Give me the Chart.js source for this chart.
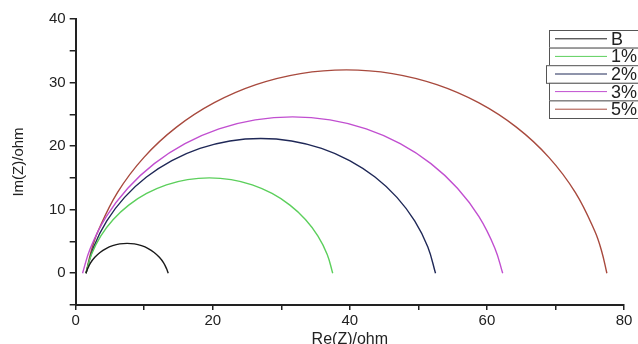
<!DOCTYPE html>
<html>
<head>
<meta charset="utf-8">
<script src="https://cdn.jsdelivr.net/npm/chart.js@4.4.0/dist/chart.umd.min.js"></script>
<style>
  html, body { margin: 0; padding: 0; background: #fff; }
  #wrap { width: 638px; height: 344px; }
</style>
</head>
<body>
<div id="wrap"><canvas id="nyquist"></canvas></div>
<script>
// series labels and colours
var labels = ["B", "1%", "2%", "3%", "5%"];
var colors = ["#1a1a1a", "#5ccf5c", "#1f2857", "#c14fd0", "#a84a3e"];

// Re(Z) / Im(Z) points
var bRe = [1.5, 1.72, 2.17, 2.79, 3.55, 4.43, 5.40, 6.43, 7.5, 8.57, 9.60, 10.58, 11.45, 12.21, 12.83, 13.28, 13.5];
var bIm = [0, 0.65, 1.63, 2.50, 3.26, 3.88, 4.33, 4.61, 4.70, 4.61, 4.33, 3.88, 3.26, 2.50, 1.63, 0.65, 0];

var p1Re = [1.5, 2.30, 3.65, 5.48, 7.74, 10.35, 13.24, 16.32, 19.5, 22.68, 25.76, 28.65, 31.26, 33.52, 35.35, 36.70, 37.5];
var p1Im = [0, 2.96, 5.85, 8.46, 10.72, 12.55, 13.90, 14.72, 15.0, 14.72, 13.90, 12.55, 10.72, 8.46, 5.85, 2.96, 0];

var p2Re = [1.5, 2.62, 4.54, 7.13, 10.33, 14.03, 18.13, 22.50, 27.0, 31.50, 35.87, 39.97, 43.67, 46.87, 49.46, 51.38, 52.5];
var p2Im = [0, 4.13, 8.23, 11.93, 15.13, 17.72, 19.64, 20.81, 21.2, 20.81, 19.64, 17.72, 15.13, 11.93, 8.23, 4.13, 0];

var p3Re = [1.0, 2.14, 4.46, 7.60, 11.47, 15.95, 20.91, 26.20, 31.65, 37.10, 42.39, 47.35, 51.83, 55.70, 58.84, 61.16, 62.3];
var p3Im = [0, 3.94, 8.9, 13.38, 17.25, 20.39, 22.71, 24.12, 24.6, 24.12, 22.71, 20.39, 17.25, 13.38, 8.9, 3.94, 0];

var p5Re = [1.5, 2.25, 3.27, 6.11, 9.96, 14.71, 20.22, 26.31, 32.81, 39.5, 46.19, 52.69, 58.78, 64.29, 69.04, 72.89, 75.73, 76.75, 77.5];
var p5Im = [0, 3.42, 6.63, 12.72, 18.23, 22.98, 26.83, 29.67, 31.41, 32.0, 31.41, 29.67, 26.83, 22.98, 18.23, 12.72, 6.63, 3.42, 0];

var seriesRe = [bRe, p1Re, p2Re, p3Re, p5Re];
var seriesIm = [bIm, p1Im, p2Im, p3Im, p5Im];

var FONT = "'Liberation Sans', Arial, sans-serif";

function pts(xs, ys) {
  return xs.map(function(x, i) { return { x: x, y: ys[i] }; });
}

// boxed legend like the original (each entry in its own frame)
var boxLegend = {
  id: 'boxLegend',
  afterDraw: function(chart) {
    var ctx = chart.ctx;
    var top = 30, h = 17.6;
    ctx.save();
    chart.data.datasets.forEach(function(ds, i) {
      var y = top + i * h;
      var left = (i === 2) ? 546 : 549;
      ctx.fillStyle = '#fff';
      ctx.fillRect(left, y, 640 - left, h);
      ctx.strokeStyle = '#555';
      ctx.lineWidth = 1;
      ctx.strokeRect(left + 0.5, y + 0.5, 640 - left, h);
      ctx.strokeStyle = ds.borderColor;
      ctx.lineWidth = 1;
      ctx.beginPath();
      ctx.moveTo(555, y + h / 2);
      ctx.lineTo(607, y + h / 2);
      ctx.stroke();
      ctx.fillStyle = '#222';
      ctx.font = '18px ' + FONT;
      ctx.textBaseline = 'middle';
      ctx.fillText(ds.label, 611, y + h / 2 + 1);
    });
    ctx.restore();
  }
};

new Chart(document.getElementById("nyquist"), {
  type: 'scatter',
  data: {
    datasets: labels.map(function(l, i) {
      return {
        label: l,
        data: pts(seriesRe[i], seriesIm[i]),
        showLine: true,
        borderColor: colors[i],
        backgroundColor: colors[i],
        borderWidth: 1.4,
        pointRadius: 0,
        tension: 0.4
      };
    })
  },
  options: {
    responsive: true,
    maintainAspectRatio: false,
    animation: false,
    layout: { padding: { top: 19, right: 14, left: 10, bottom: -4 } },
    plugins: {
      legend: { display: false },
      tooltip: { enabled: false }
    },
    scales: {
      x: {
        type: 'linear',
        min: 0,
        max: 80,
        ticks: {
          stepSize: 10,
          autoSkip: false,
          maxRotation: 0,
          color: '#222',
          font: { family: FONT, size: 15, lineHeight: 1 },
          padding: 3,
          callback: function(v) { return v % 20 === 0 ? v : ''; }
        },
        grid: { drawOnChartArea: false, color: '#222', tickLength: 5, lineWidth: 1.5 },
        border: { color: '#222', width: 2 },
        title: {
          display: true,
          text: 'Re(Z)/ohm',
          color: '#222',
          font: { family: FONT, size: 16, lineHeight: 1 },
          padding: { top: 1, bottom: 0 }
        }
      },
      y: {
        type: 'linear',
        min: -5,
        max: 40,
        afterBuildTicks: function(axis) {
          var t = [];
          for (var v = -5; v <= 40; v += 5) t.push({ value: v });
          axis.ticks = t;
        },
        ticks: {
          autoSkip: false,
          color: '#222',
          font: { family: FONT, size: 15 },
          padding: 4,
          callback: function(v) { return (v % 10 === 0) ? v : ''; }
        },
        grid: { drawOnChartArea: false, color: '#222', tickLength: 6, lineWidth: 1.5 },
        border: { color: '#222', width: 2 },
        title: {
          display: true,
          text: 'Im(Z)/ohm',
          color: '#222',
          font: { family: FONT, size: 15 },
          padding: { top: 0, bottom: 17 }
        }
      }
    }
  },
  plugins: [boxLegend]
});
</script>
</body>
</html>
